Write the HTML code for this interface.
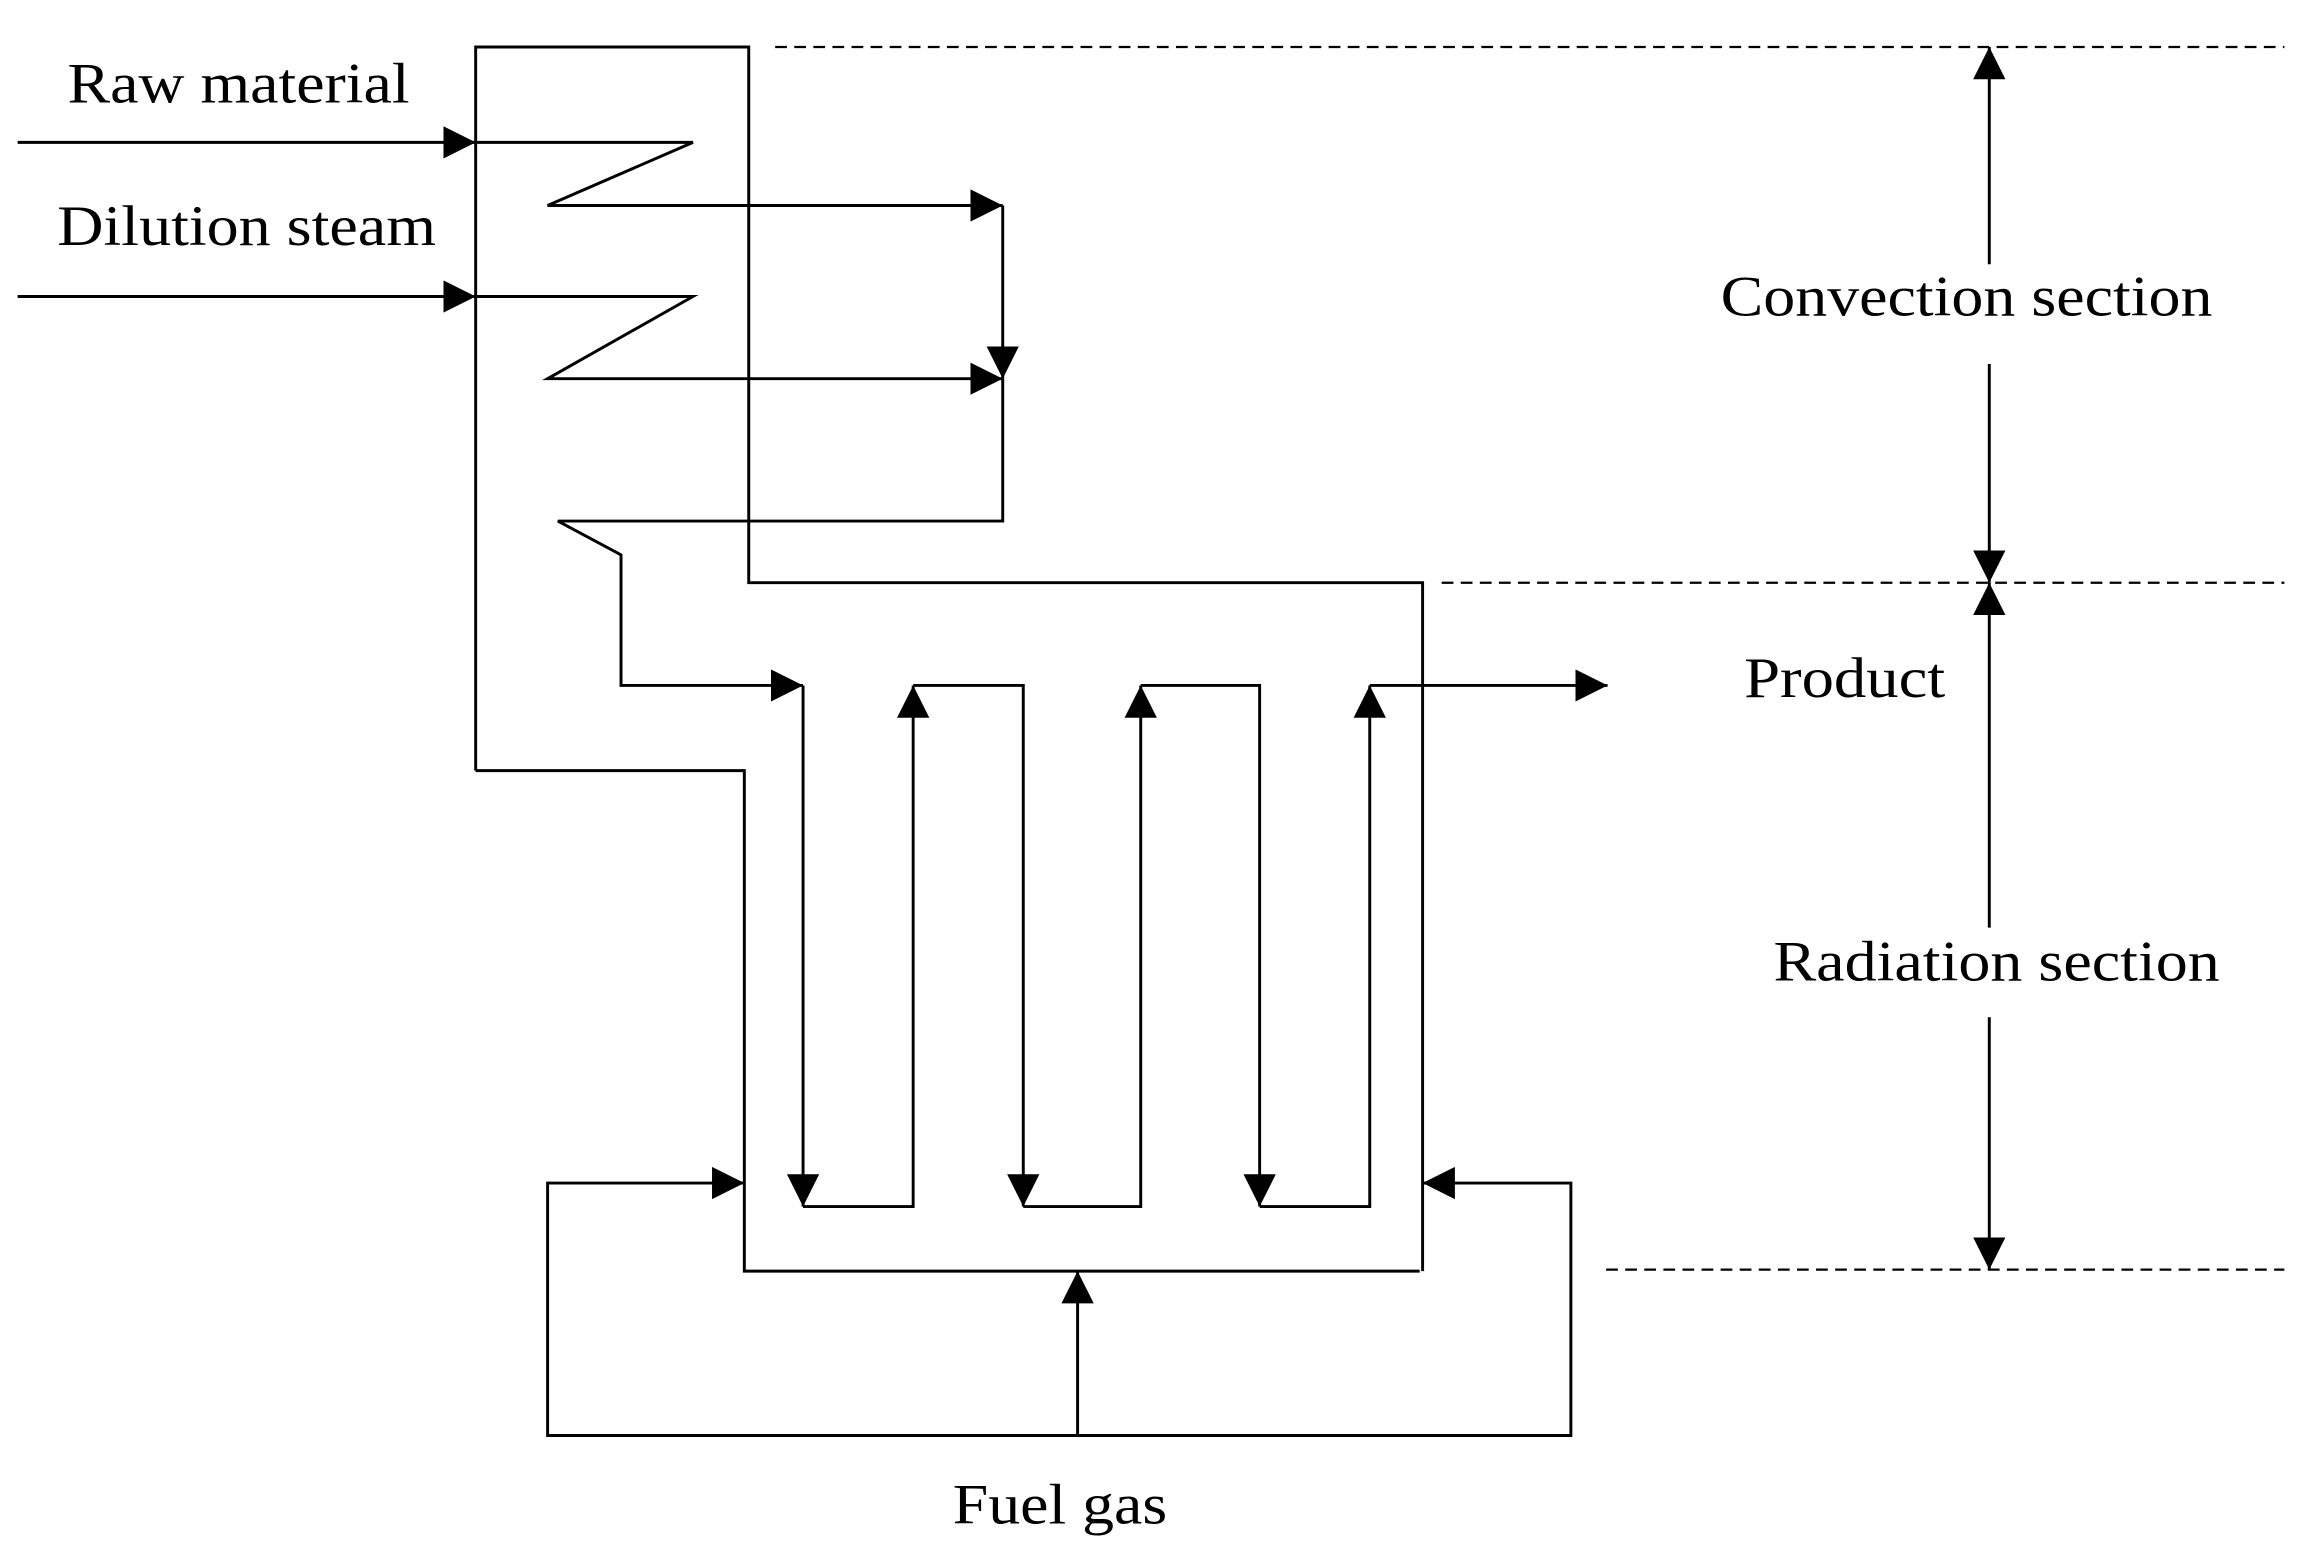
<!DOCTYPE html>
<html><head><meta charset="utf-8"><style>html,body{margin:0;padding:0;background:#fff}svg{display:block}text{font-family:"Liberation Serif","Times New Roman",serif;font-size:39px}</style></head>
<body>
<svg width="2302" height="1550" viewBox="0 0 1568 1056" preserveAspectRatio="none" xmlns="http://www.w3.org/2000/svg">
<defs>
<marker id="a" viewBox="0 0 10 10" refX="10" refY="5" markerWidth="22" markerHeight="22" markerUnits="userSpaceOnUse" orient="auto"><path d="M0,0 L10,5 L0,10 z" fill="#000"/></marker>
</defs>
<g fill="none" stroke="#000" stroke-width="2">
<path d="M324,525 V32 H510 V397 H969 V866"/>
<path d="M324,525 H507 V866 H967"/>
<g stroke-dasharray="8,5" stroke-width="1.5">
<line x1="528" y1="32" x2="1556" y2="32"/>
<line x1="982" y1="397" x2="1556" y2="397"/>
<line x1="1094" y1="865" x2="1556" y2="865"/>
</g>
<line x1="12" y1="97" x2="324" y2="97" marker-end="url(#a)"/>
<path d="M324,97 H472 L373,140 H683" marker-end="url(#a)"/>
<line x1="12" y1="202" x2="324" y2="202" marker-end="url(#a)"/>
<path d="M324,202 H472 L373,258 H683" marker-end="url(#a)"/>
<line x1="683" y1="140" x2="683" y2="258" marker-end="url(#a)"/>
<line x1="683" y1="258" x2="683" y2="356"/>
<path d="M683,355 H380 L423,378 V467 H547" marker-end="url(#a)"/>
<line x1="547" y1="467" x2="547" y2="822" marker-end="url(#a)"/>
<path d="M547,822 H622 V467" marker-end="url(#a)"/>
<path d="M622,467 H697 V822" marker-end="url(#a)"/>
<path d="M697,822 H777 V467" marker-end="url(#a)"/>
<path d="M777,467 H858 V822" marker-end="url(#a)"/>
<path d="M858,822 H933 V467" marker-end="url(#a)"/>
<path d="M933,467 H1095" marker-end="url(#a)"/>
<path d="M734,978 H373 V806 H507" marker-end="url(#a)"/>
<path d="M734,978 H1070 V806 H969" marker-end="url(#a)"/>
<line x1="734" y1="978" x2="734" y2="866" marker-end="url(#a)"/>
<line x1="1355" y1="180" x2="1355" y2="32" marker-end="url(#a)"/>
<line x1="1355" y1="248" x2="1355" y2="397" marker-end="url(#a)"/>
<line x1="1355" y1="632" x2="1355" y2="397" marker-end="url(#a)"/>
<line x1="1355" y1="693" x2="1355" y2="865" marker-end="url(#a)"/>
</g>
<g fill="#000">
<text x="46" y="70" textLength="233" lengthAdjust="spacingAndGlyphs">Raw material</text>
<text x="39" y="167" textLength="258" lengthAdjust="spacingAndGlyphs">Dilution steam</text>
<text x="1172" y="215" textLength="335" lengthAdjust="spacingAndGlyphs">Convection section</text>
<text x="1188" y="475" textLength="137" lengthAdjust="spacingAndGlyphs">Product</text>
<text x="1208" y="668" textLength="304" lengthAdjust="spacingAndGlyphs">Radiation section</text>
<text x="649" y="1038" textLength="146" lengthAdjust="spacingAndGlyphs">Fuel gas</text>
</g>
</svg>
</body></html>
